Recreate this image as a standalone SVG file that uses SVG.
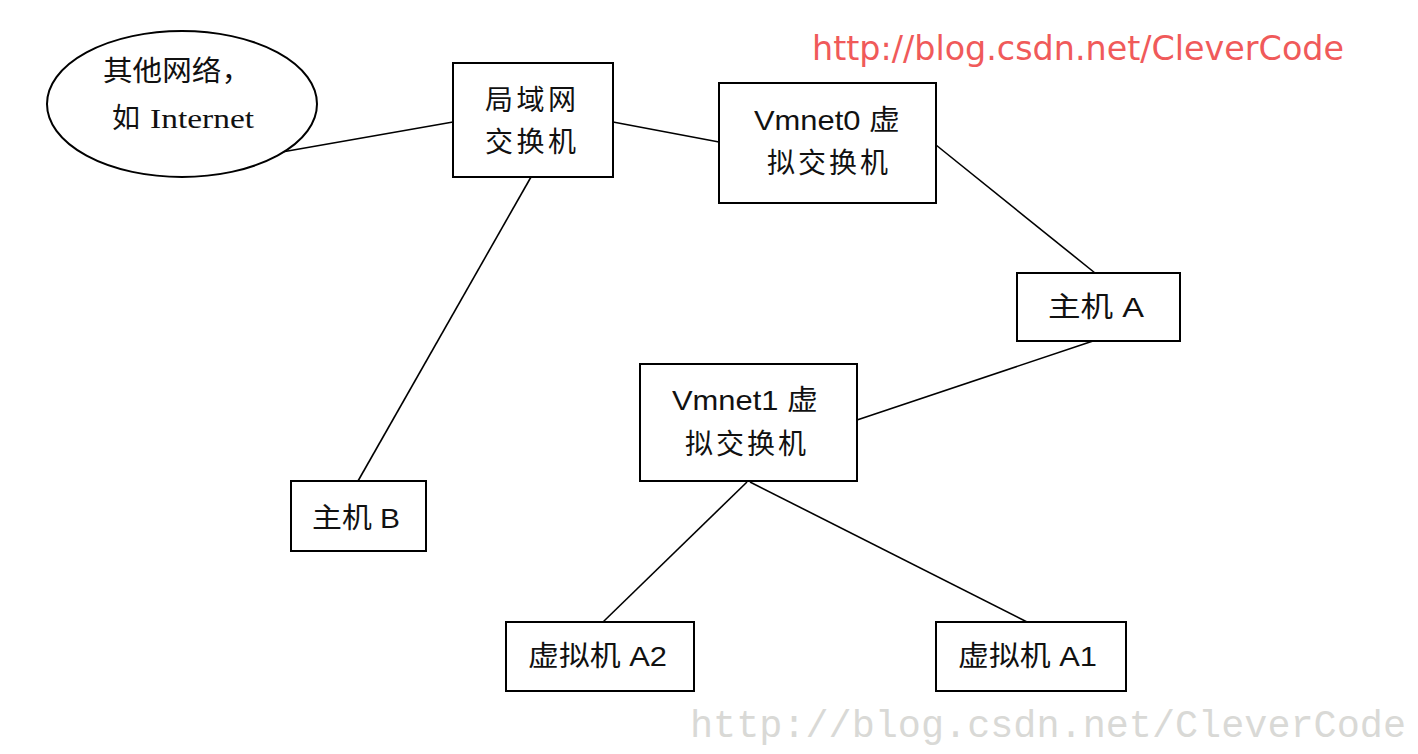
<svg xmlns="http://www.w3.org/2000/svg" width="1418" height="754" viewBox="0 0 1418 754">
<style>
.box{fill:#fff;stroke:#000;stroke-width:2}
.ln{stroke:#000;stroke-width:1.6;fill:none}
.t{font-family:"Liberation Sans","Noto Sans CJK SC",sans-serif;font-size:28px;fill:#111}
</style>
<rect width="1418" height="754" fill="#fff"/>
<g id="connectors">
<line class="ln" x1="282" y1="152" x2="453" y2="122"/>
<line class="ln" x1="613" y1="122" x2="719" y2="142"/>
<line class="ln" x1="531" y1="177" x2="358" y2="481"/>
<line class="ln" x1="936" y1="145" x2="1095" y2="273"/>
<line class="ln" x1="1093" y1="341" x2="857" y2="420"/>
<line class="ln" x1="747" y1="482" x2="603" y2="622"/>
<line class="ln" x1="750" y1="482" x2="1027" y2="622"/>
</g>
<g id="other-net">
<ellipse cx="182" cy="104" rx="135" ry="73" class="box"/>
<text class="t" x="103" y="81" textLength="148" lengthAdjust="spacingAndGlyphs">其他网络，</text>
<text class="t" x="112" y="128"><tspan>如</tspan><tspan font-family="Liberation Serif" dx="10" textLength="104" lengthAdjust="spacingAndGlyphs">Internet</tspan></text>
</g>
<g id="lan-switch">
<rect x="453" y="63" width="160" height="114" class="box"/>
<text class="t" x="485" y="110" textLength="91" lengthAdjust="spacing">局域网</text>
<text class="t" x="485" y="152" textLength="91" lengthAdjust="spacing">交换机</text>
</g>
<g id="vmnet0">
<rect x="719" y="83" width="217" height="120" class="box"/>
<text class="t" x="754" y="130" textLength="146" lengthAdjust="spacingAndGlyphs">Vmnet0 虚</text>
<text class="t" x="767" y="173" textLength="121" lengthAdjust="spacing">拟交换机</text>
</g>
<g id="host-a">
<rect x="1017" y="273" width="163" height="68" class="box"/>
<text class="t" x="1048" y="317" textLength="96" lengthAdjust="spacingAndGlyphs">主机 A</text>
</g>
<g id="vmnet1">
<rect x="640" y="364" width="217" height="117" class="box"/>
<text class="t" x="672" y="410" textLength="146" lengthAdjust="spacingAndGlyphs">Vmnet1 虚</text>
<text class="t" x="685" y="454" textLength="121" lengthAdjust="spacing">拟交换机</text>
</g>
<g id="host-b">
<rect x="291" y="481" width="135" height="70" class="box"/>
<text class="t" x="312" y="528" textLength="88" lengthAdjust="spacingAndGlyphs">主机 B</text>
</g>
<g id="vm-a2">
<rect x="506" y="622" width="188" height="69" class="box"/>
<text class="t" x="528" y="666" textLength="139" lengthAdjust="spacingAndGlyphs">虚拟机 A2</text>
</g>
<g id="vm-a1">
<rect x="936" y="622" width="190" height="69" class="box"/>
<text class="t" x="958" y="666" textLength="139" lengthAdjust="spacingAndGlyphs">虚拟机 A1</text>
</g>
<text x="812" y="60" font-family="DejaVu Sans, sans-serif" font-size="34" fill="#f05a5a" textLength="532" lengthAdjust="spacingAndGlyphs">http://blog.csdn.net/CleverCode</text>
<text x="690" y="737" font-family="Liberation Mono, monospace" font-size="38" fill="#d9d9d6" textLength="716" lengthAdjust="spacingAndGlyphs">http://blog.csdn.net/CleverCode</text>
</svg>
